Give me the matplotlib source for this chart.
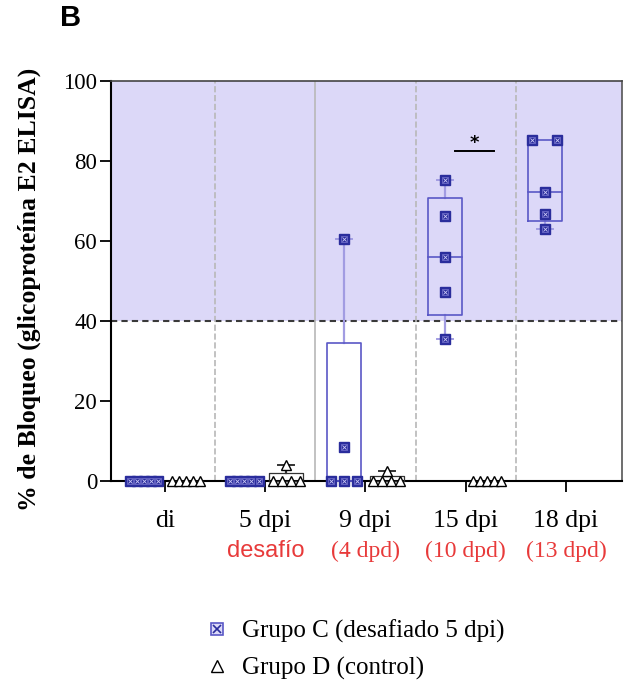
import numpy as np
import matplotlib
matplotlib.use("Agg")
import matplotlib.pyplot as plt
from matplotlib.lines import Line2D
from matplotlib.legend_handler import HandlerTuple

# datos
tiempos = ["di", "5 dpi", "9 dpi", "15 dpi", "18 dpi"]
subtit = ["", "desafío", "(4 dpd)", "(10 dpd)", "(13 dpd)"]

grupo_c = [
    [0, 0, 0, 0, 0],
    [0, 0, 0, 0, 0],
    [0, 0, 0, 8.5, 60.5],
    [35.6, 47.3, 56.1, 66.3, 75.3],
    [63.0, 66.8, 72.3, 85.3, 85.3],
]
grupo_d = [
    [0, 0, 0, 0, 0],
    [0, 0, 0, 0, 4.0],
    [0, 0, 0, 0, 2.5],
    [0, 0, 0, 0, 0],
    [],
]

# separación horizontal de puntos repetidos (estilo)
sep_c = [0.072, 0.072, 0.13, 0.1, 0.25]
sep_d = [0.07, 0.09, 0.09, 0.07, 0.07]

AZUL = "#2a2d9c"
CAJA = "#5a58c6"
BIGOTE = "#a29ce2"
LAVANDA = "#dcd8f8"
ROJO = "#e83a3a"
SERIF = "Liberation Serif"

OFF = 0.21
ANCHO = 0.34


def swarm(vals, sep):
    vals = np.asarray(vals, dtype=float)
    offs = np.zeros(len(vals))
    for v in np.unique(vals):
        idx = np.where(vals == v)[0]
        n = len(idx)
        offs[idx] = (np.arange(n) - (n - 1) / 2) * sep
    return offs


def caja(ax, x, vals, color_caja, color_bigote, lw=1.2):
    v = np.asarray(vals, dtype=float)
    q1, med, q3 = np.percentile(v, [25, 50, 75], method="weibull")
    lo, hi = v.min(), v.max()
    h = ANCHO / 2
    ax.plot([x - h, x + h, x + h, x - h, x - h], [q1, q1, q3, q3, q1],
            color=color_caja, lw=lw, zorder=3, clip_on=False)
    ax.plot([x - h, x + h], [med, med], color=color_caja, lw=lw, zorder=3, clip_on=False)
    ax.plot([x, x], [q3, hi], color=color_bigote, lw=1.6, zorder=2)
    ax.plot([x, x], [lo, q1], color=color_bigote, lw=1.6, zorder=2)
    if hi > q3:
        ax.plot([x - 0.08, x + 0.08], [hi, hi], color=color_bigote, lw=1.4, zorder=2)
    if lo < q1:
        ax.plot([x - 0.08, x + 0.08], [lo, lo], color=color_bigote, lw=1.4, zorder=2)


fig = plt.figure(figsize=(6.32, 6.88), dpi=100)
ax = fig.add_axes([0.1756, 0.3009, 0.8086, 0.5814])

ax.axhspan(40, 100, color=LAVANDA, zorder=0, lw=0)
ax.axhline(40, color="#3a3a3a", lw=1.5, ls=(0, (3, 2)), zorder=1)
for xs, estilo in zip([0.5, 1.5, 2.5, 3.5], ["--", "-", "--", "--"]):
    ax.axvline(xs, color="#b8b8b8", lw=1.2, ls=estilo, zorder=1)

for i in range(len(tiempos)):
    xc = i - OFF
    caja(ax, xc, grupo_c[i], CAJA, BIGOTE)
    xs = xc + swarm(grupo_c[i], sep_c[i])
    ax.plot(xs, grupo_c[i], ls="none", marker="s", ms=6.5, mfc=AZUL, mec=AZUL,
            zorder=5, clip_on=False)
    ax.plot(xs, grupo_c[i], ls="none", marker="x", ms=3.2, mew=0.6, color="#c8c5f5",
            zorder=6, clip_on=False)
    ax.plot(xs, grupo_c[i], ls="none", marker="s", ms=4.0, mew=0.4, mfc="none",
            mec="#8f8be0", zorder=6, clip_on=False)

    if len(grupo_d[i]):
        xd = i + OFF
        caja(ax, xd, grupo_d[i], "#333333", "#333333", lw=0.9)
        xs = xd + swarm(grupo_d[i], sep_d[i])
        ax.plot(xs, grupo_d[i], ls="none", marker="^", ms=7, mfc="white", mec="black",
                mew=1.0, zorder=5, clip_on=False)

# barra de significancia
ax.plot([2.89, 3.28], [82.5, 82.5], color="black", lw=1.4, zorder=4)
ax.text(3.085, 84.6, "*", ha="center", va="center", fontsize=13, fontweight="bold",
        family="DejaVu Sans", zorder=4)

ax.set_xlim(-0.54, 4.56)
ax.set_ylim(0, 100)
ax.set_yticks(range(0, 101, 20))
ax.set_xticks(range(len(tiempos)))
ax.set_xticklabels(tiempos, family=SERIF, fontsize=18.5)
ax.tick_params(axis="x", length=8, width=1.3, pad=13)
ax.tick_params(axis="y", length=8, width=1.3, pad=2, labelsize=16.5)
for lab in ax.get_yticklabels():
    lab.set_family(SERIF)

for i, s in enumerate(subtit):
    if not s:
        continue
    fam = "Liberation Sans" if i == 1 else SERIF
    ax.text(i, -17.6, s, ha="center", va="center", color=ROJO, fontsize=17,
            family=fam, transform=ax.transData, clip_on=False)

ax.spines["left"].set_color("black")
ax.spines["bottom"].set_color("black")
ax.spines["left"].set_linewidth(1.5)
ax.spines["bottom"].set_linewidth(1.5)
ax.spines["top"].set_color("#444444")
ax.spines["right"].set_color("#555555")
ax.spines["top"].set_linewidth(1.2)
ax.spines["right"].set_linewidth(1.2)

ax.set_ylabel("% de Bloqueo (glicoproteína E2 ELISA)", family=SERIF, fontsize=18.5,
              fontweight="bold")
ax.yaxis.set_label_coords(-0.137, 0.478)

fig.text(0.095, 0.974, "B", family="Liberation Sans", fontweight="bold", fontsize=21,
         ha="left", va="center")

# leyenda
h_c = (Line2D([], [], ls="none", marker="s", ms=8, mfc="#dcdaf8", mec=CAJA, mew=1.2),
       Line2D([], [], ls="none", marker="x", ms=5.5, mew=1.2, color=AZUL))
h_d = Line2D([], [], ls="none", marker="^", ms=8, mfc="white", mec="black", mew=1.0)
fig.legend([h_c, h_d], ["Grupo C (desafiado 5 dpi)", "Grupo D (control)"],
           handler_map={tuple: HandlerTuple(ndivide=1, pad=0)},
           loc="upper left", bbox_to_anchor=(0.304, 0.117),
           frameon=False, prop={"family": SERIF, "size": 18},
           handlelength=1.0, handletextpad=0.5, labelspacing=0.55, borderpad=0)

fig.savefig("out.png", dpi=100)
